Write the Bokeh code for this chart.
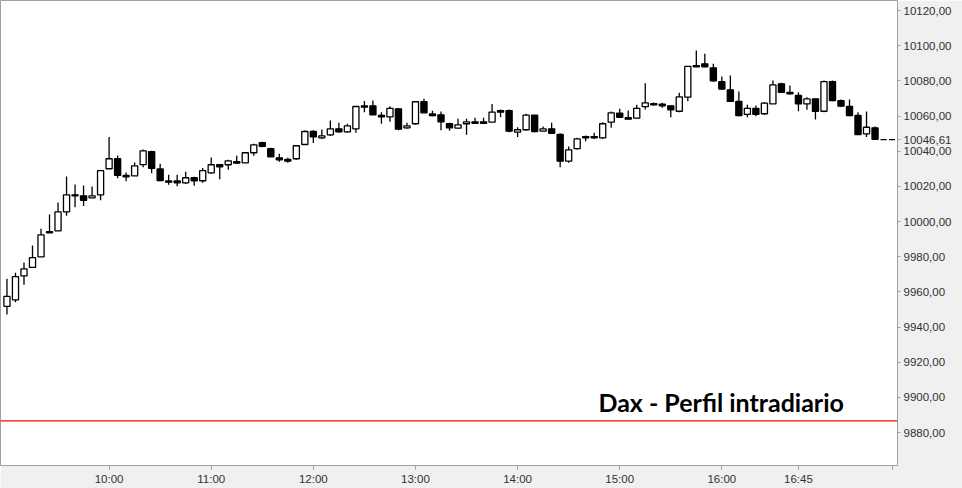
from bokeh.plotting import figure
from bokeh.models import (ColumnDataSource, FixedTicker, CustomJSTickFormatter, Span,
                          Label, Range1d)
from bokeh.embed import file_html
from bokeh.resources import INLINE

# ---------------- data (5-minute bars, DAX intraday) ----------------
time_labels = ["10:00", "11:00", "12:00", "13:00", "14:00", "15:00", "16:00", "16:45"]
label_bars = [12, 24, 36, 48, 60, 72, 84, 93]
end_bar = 104

opens = [9951.8, 9955.5, 9969.1, 9973.9, 9979.9, 9994.3, 9994.7, 10005.5, 10015.2, 10014.6,
         10013.5, 10015.2, 10030.0, 10035.7, 10026.2, 10026.0, 10032.4, 10039.8, 10029.9, 10023.1,
         10023.1, 10022.0, 10024.9, 10023.2, 10027.7, 10032.3, 10032.3, 10034.0, 10033.4, 10039.1,
         10044.8, 10041.4, 10036.2, 10035.3, 10035.7, 10043.8, 10051.2, 10047.6, 10049.3, 10052.7,
         10051.0, 10052.7, 10065.8, 10065.8, 10060.3, 10059.5, 10064.1, 10053.3, 10055.6, 10068.1,
         10061.2, 10060.7, 10055.6, 10053.1, 10055.6, 10056.7, 10056.7, 10056.5, 10063.1, 10063.1,
         10050.8, 10052.2, 10060.5, 10051.4, 10052.7, 10049.5, 10034.3, 10041.4, 10048.3, 10048.3,
         10047.6, 10056.5, 10061.6, 10059.0, 10058.8, 10065.3, 10067.1, 10066.7, 10065.8, 10062.7,
         10070.7, 10088.7, 10089.7, 10087.4, 10079.5, 10074.9, 10068.3, 10060.9, 10064.4, 10061.3,
         10066.9, 10078.3, 10073.5, 10071.7, 10066.9, 10069.8, 10062.7, 10079.6, 10068.8, 10065.4,
         10060.3, 10049.9, 10053.3, 10046.61, 10046.61]
highs = [9967.4, 9970.8, 9976.7, 9986.4, 9995.9, 10004.0, 10010.8, 10025.6, 10021.1, 10020.5,
         10019.9, 10028.9, 10048.0, 10037.6, 10027.9, 10033.6, 10041.0, 10040.2, 10032.8, 10026.6,
         10026.6, 10028.3, 10025.4, 10030.5, 10036.4, 10032.3, 10035.1, 10037.4, 10039.6, 10044.2,
         10045.3, 10041.9, 10038.5, 10036.2, 10043.1, 10051.8, 10051.9, 10052.3, 10057.4, 10056.1,
         10055.6, 10065.7, 10068.6, 10068.8, 10062.2, 10065.6, 10064.6, 10056.1, 10068.6, 10069.8,
         10063.0, 10062.6, 10056.1, 10058.4, 10058.4, 10059.0, 10059.0, 10066.9, 10063.7, 10063.7,
         10053.6, 10061.3, 10060.5, 10054.0, 10056.1, 10050.2, 10042.6, 10047.6, 10048.9, 10050.5,
         10056.5, 10062.6, 10064.1, 10063.1, 10066.4, 10078.7, 10067.7, 10067.5, 10066.0, 10073.2,
         10088.2, 10097.3, 10095.4, 10089.7, 10082.5, 10083.0, 10073.9, 10066.4, 10066.0, 10067.9,
         10080.2, 10078.9, 10077.4, 10073.5, 10070.7, 10069.8, 10080.2, 10080.2, 10069.4, 10069.4,
         10062.2, 10062.6, 10054.0, 10046.61, 10046.61]
lows = [9947.1, 9954.1, 9964.0, 9973.9, 9979.9, 9993.6, 9994.7, 10003.3, 10008.1, 10008.9,
        10013.5, 10012.1, 10030.0, 10024.6, 10022.9, 10026.0, 10030.9, 10027.5, 10022.9, 10020.9,
        10020.1, 10021.4, 10020.3, 10022.0, 10027.1, 10024.0, 10029.4, 10032.8, 10033.4, 10037.4,
        10042.3, 10036.8, 10034.0, 10033.4, 10035.1, 10043.8, 10044.7, 10047.0, 10048.7, 10050.5,
        10050.5, 10050.5, 10062.2, 10060.7, 10055.6, 10056.7, 10051.9, 10052.7, 10055.0, 10061.8,
        10059.9, 10051.9, 10051.6, 10052.7, 10049.3, 10055.9, 10055.9, 10056.5, 10059.3, 10050.8,
        10048.0, 10051.8, 10050.8, 10051.4, 10049.9, 10030.9, 10033.4, 10040.8, 10045.7, 10047.0,
        10047.0, 10053.3, 10059.0, 10058.2, 10058.4, 10063.7, 10066.0, 10064.7, 10059.3, 10062.2,
        10068.4, 10088.0, 10087.8, 10079.5, 10074.9, 10067.9, 10059.9, 10059.3, 10059.9, 10060.9,
        10066.9, 10073.2, 10072.2, 10062.7, 10063.5, 10058.0, 10062.2, 10068.4, 10065.2, 10059.9,
        10049.3, 10048.0, 10046.8, 10046.61, 10046.61]
closes = [9957.4, 9968.7, 9973.1, 9979.5, 9992.4, 9993.6, 10005.5, 10015.2, 10014.6, 10012.1,
          10014.6, 10028.9, 10035.7, 10026.3, 10025.4, 10031.7, 10040.2, 10030.3, 10023.3, 10022.4,
          10022.0, 10024.9, 10023.2, 10028.9, 10032.3, 10031.1, 10034.5, 10033.2, 10039.1, 10043.6,
          10042.8, 10036.8, 10035.1, 10034.3, 10043.1, 10051.2, 10048.2, 10048.7, 10052.7, 10051.0,
          10054.4, 10065.4, 10065.0, 10060.7, 10059.5, 10064.4, 10052.5, 10054.4, 10068.1, 10061.8,
          10060.3, 10056.7, 10053.3, 10055.0, 10056.7, 10055.9, 10055.9, 10062.2, 10062.2, 10051.4,
          10052.2, 10060.5, 10051.2, 10052.7, 10050.2, 10034.3, 10040.8, 10047.0, 10047.6, 10047.6,
          10055.6, 10061.8, 10059.3, 10058.2, 10064.4, 10067.5, 10066.4, 10065.8, 10063.5, 10070.9,
          10088.2, 10088.0, 10088.0, 10080.0, 10075.3, 10068.3, 10060.3, 10064.4, 10060.9, 10067.3,
          10077.7, 10073.5, 10072.6, 10066.9, 10069.8, 10062.7, 10079.6, 10068.8, 10065.6, 10060.3,
          10049.5, 10053.6, 10046.8, 10046.61, 10046.61]

y_ticks = [9880, 9900, 9920, 9940, 9960, 9980, 10000, 10020, 10040, 10060, 10080, 10100, 10120]
ref_level = 9886.65
last_price = 10046.61
title_text = "Dax - Perfil intradiario"

# ---------------- build ----------------
n = len(opens)
bars = list(range(n))
tops = [max(o, c) for o, c in zip(opens, closes)]
bottoms = [min(o, c) for o, c in zip(opens, closes)]
fills = ["white" if c > o else "black" for o, c in zip(opens, closes)]
src = ColumnDataSource(dict(x=bars, top=tops, bottom=bottoms, fill=fills, high=highs, low=lows))

X0, X1 = -0.76, 104.64
Y0, Y1 = 9861.26, 10125.69

p = figure(width=962, height=488, output_backend="svg", toolbar_location=None,
           x_range=Range1d(X0, X1), y_range=Range1d(Y0, Y1),
           y_axis_location="right",
           min_border_left=0, min_border_top=0, min_border_right=65, min_border_bottom=23)
p.xgrid.visible = False
p.ygrid.visible = False
p.background_fill_color = "white"
p.border_fill_color = "#f0f0f0"
p.outline_line_color = "#a0a0a0"

p.segment(x0="x", y0="low", x1="x", y1="high", source=src, line_color="black", line_width=1.3)
p.vbar(x="x", width=0.72, top="top", bottom="bottom", source=src,
       fill_color="fill", line_color="black", line_width=1.3)

p.add_layout(Span(location=ref_level, dimension="width", line_color="red", line_width=1.1))

ya = p.yaxis[0]
ya.ticker = FixedTicker(ticks=y_ticks + [last_price])
ya.formatter = CustomJSTickFormatter(
    args=dict(last=last_price),
    code="if (Math.abs(tick - last) < 0.001) { return ' ' + tick.toFixed(2).replace('.', ','); }"
         " return tick.toFixed(2).replace('.', ',');")
ya.major_label_text_font = "Liberation Sans"
ya.major_label_text_font_size = "11.5px"
ya.major_label_text_color = "#303030"
ya.axis_line_color = "#a0a0a0"
ya.major_tick_line_color = "#a0a0a0"
ya.major_tick_out = 3
ya.major_tick_in = 0
ya.minor_tick_line_color = None
ya.major_label_standoff = 3

xa = p.xaxis[0]
xa.ticker = FixedTicker(ticks=label_bars + [end_bar])
overrides = {b: t for b, t in zip(label_bars, time_labels)}
overrides[end_bar] = ""
xa.major_label_overrides = overrides
xa.major_label_text_font = "Liberation Sans"
xa.major_label_text_font_size = "11.5px"
xa.major_label_text_color = "#303030"
xa.axis_line_color = "#a0a0a0"
xa.major_tick_line_color = "#a0a0a0"
xa.major_tick_out = 4
xa.major_tick_in = 0
xa.minor_tick_line_color = None
xa.major_label_standoff = 3

p.add_layout(Label(x=69.5, y=9897.3, text=title_text, text_font="Lato",
                   text_font_style="bold", text_font_size="25px", text_color="black",
                   text_baseline="alphabetic"))

open("out.html", "w").write(file_html(p, INLINE))
